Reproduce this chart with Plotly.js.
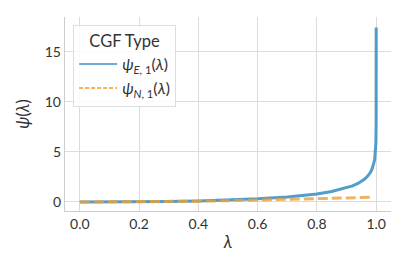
<!DOCTYPE html>
<html>
<head>
<meta charset="utf-8">
<script src="https://cdn.plot.ly/plotly-3.0.1.min.js"></script>
<style>html,body{margin:0;padding:0;background:#fff;}#chart{width:408px;height:272px;}</style>
</head>
<body>
<div id="chart"></div>
<script>
// Values
const lambdaE = [0, 0.1, 0.2, 0.3, 0.4, 0.5, 0.6, 0.7, 0.75, 0.8, 0.85, 0.9, 0.92, 0.94, 0.95, 0.96, 0.97, 0.975, 0.98, 0.985, 0.99, 0.993, 0.995, 0.998, 0.999, 0.9999, 0.99999, 0.999999, 0.9999999, 0.99999999];
const psiE = [0, 0.0054, 0.0231, 0.0567, 0.1108, 0.1931, 0.3163, 0.5040, 0.6363, 0.8094, 1.0471, 1.4026, 1.6057, 1.8734, 2.0457, 2.2589, 2.5366, 2.7136, 2.9320, 3.2151, 3.6152, 3.9688, 4.3033, 5.2166, 5.9088, 8.2104, 10.513, 12.816, 15.118, 17.42];
const lambdaN = [0, 0.1, 0.2, 0.3, 0.4, 0.5, 0.6, 0.7, 0.8, 0.9, 0.95, 0.99];
const psiN = [0, 0.005, 0.02, 0.045, 0.08, 0.125, 0.18, 0.245, 0.32, 0.405, 0.451, 0.49];
const seriesNames = ['<i>ψ</i><sub><i>E</i>, 1</sub>(<i>λ</i>)', '<i>ψ</i><sub><i>N</i>, 1</sub>(<i>λ</i>)'];
const xTicks = [0, 0.2, 0.4, 0.6, 0.8, 1.0];
const xTickText = ['0.0', '0.2', '0.4', '0.6', '0.8', '1.0'];
const yTicks = [0, 5, 10, 15];

const font = 'Lato, "Open Sans", sans-serif';
const blue = '#3a8fc4', orange = '#e8a23a';
const traces = [
  {x: lambdaE, y: psiE, name: seriesNames[0], type: 'scatter', mode: 'lines',
   line: {color: blue, width: 3}, opacity: 0.88, showlegend: false},
  {x: lambdaN, y: psiN, name: seriesNames[1], type: 'scatter', mode: 'lines',
   line: {color: orange, width: 3, dash: '10px,4px'}, opacity: 0.8, showlegend: false},
  // legend entries (thin lines, as in the reference legend)
  {x: [null], y: [null], name: seriesNames[0], type: 'scatter', mode: 'lines',
   line: {color: '#3b8fcf', width: 1.5}},
  {x: [null], y: [null], name: seriesNames[1], type: 'scatter', mode: 'lines',
   line: {color: '#f29a1c', width: 1.5, dash: '4px,2px'}}
];
const layout = {
  width: 408, height: 272,
  margin: {l: 65, r: 17, t: 17, b: 61},
  paper_bgcolor: '#fff', plot_bgcolor: '#fff',
  font: {family: font, size: 14, color: '#333'},
  showlegend: true,
  xaxis: {
    range: [-0.05, 1.05], tickvals: xTicks, ticktext: xTickText,
    showgrid: true, gridcolor: '#dcdcdc', gridwidth: 1, zeroline: false,
    showline: true, linecolor: '#cccccc', linewidth: 1.2, ticks: '', ticklen: 0,
    tickfont: {size: 14, color: '#333'},
    title: {text: '<i>λ</i>', font: {size: 17, color: '#333'}, standoff: 5}
  },
  yaxis: {
    range: [-0.9, 18.48], tickvals: yTicks,
    showgrid: true, gridcolor: '#dcdcdc', gridwidth: 1, zeroline: false,
    showline: true, linecolor: '#cccccc', linewidth: 1.2, ticks: '',
    tickfont: {size: 14, color: '#333'},
    title: {text: '<i>ψ</i>(<i>λ</i>)', font: {size: 17, color: '#333'}, standoff: 10}
  },
  legend: {
    x: 0.025, y: 0.96, xanchor: 'left', yanchor: 'top',
    bgcolor: 'rgba(255,255,255,0.85)', bordercolor: '#dddddd', borderwidth: 1,
    font: {size: 16, color: '#333'},
    itemwidth: 38,
    title: {text: 'CGF Type', side: 'top center', font: {size: 16.5, color: '#333'}},
    tracegroupgap: 0
  }
};
Plotly.newPlot('chart', traces, layout, {displayModeBar: false, staticPlot: true});
</script>
</body>
</html>
